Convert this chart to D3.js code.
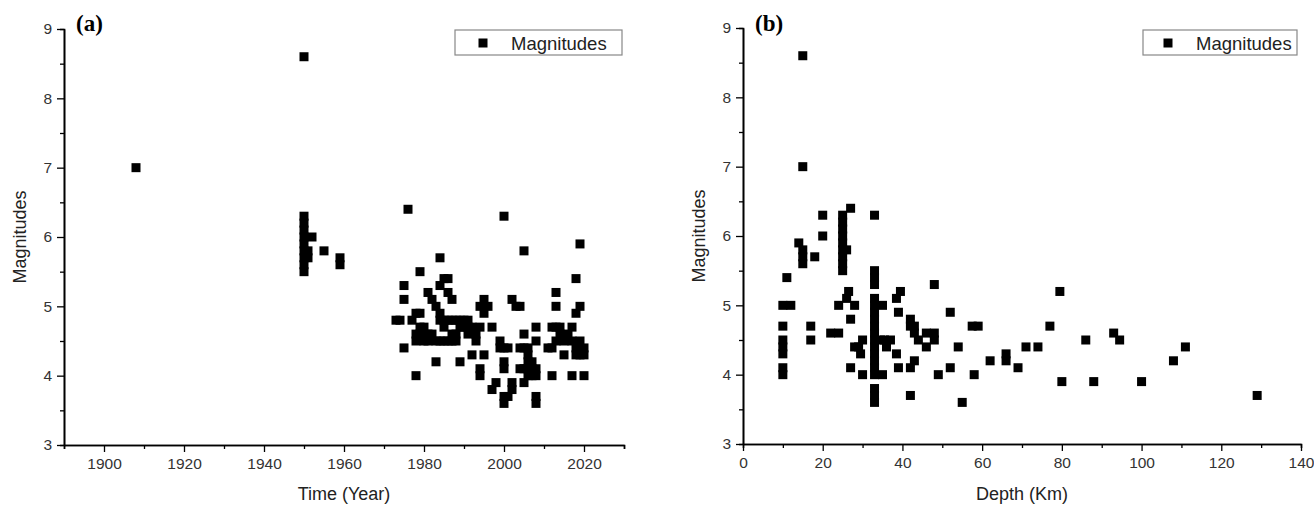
<!DOCTYPE html>
<meta charset="utf-8">
<script src="https://d3js.org/d3.v7.min.js"></script>
<style>
  body { margin: 0; background: #fff; }
  text { font-family: "Liberation Sans", Arial, sans-serif; }
</style>
<div id="chart"></div>
<script>

// (a) magnitude vs year of event
var timeYears = [1908,
  1950,1950,1950,1950,1950,1950,1950,1950,1950,1950, 1951,1951, 1952, 1955, 1959,1959,
  1973, 1974, 1975,1975,1975, 1976, 1977, 1978,1978,1978,1978, 1979,1979,1979,1979,
  1980,1980, 1981,1981,1981, 1982,1982, 1983,1983,1983, 1984,1984,1984,1984,1984,
  1985,1985,1985,1985, 1986,1986,1986,1986, 1987,1987,1987,1987, 1988,1988,1988,
  1989,1989,1989, 1990,1990, 1991,1991,1991, 1992,1992, 1993,1993, 1994,1994,1994,1994,
  1995,1995,1995, 1996, 1997,1997, 1998, 1999,1999,
  2000,2000,2000,2000,2000,2000, 2001,2001, 2002,2002,2002, 2003, 2004,2004,2004,
  2005,2005,2005,2005,2005, 2006,2006,2006,2006,2006, 2007,2007,2007,
  2008,2008,2008,2008,2008,2008, 2011, 2012,2012,2012, 2013,2013,2013,2013,
  2014,2014, 2015,2015, 2016, 2017,2017,2017, 2018,2018,2018,2018,
  2019,2019,2019,2019, 2020,2020,2020];
var timeMags = [7.0,
  8.6,6.3,6.2,6.1,6.0,5.9,5.8,5.7,5.6,5.5, 5.8,5.7, 6.0, 5.8, 5.7,5.6,
  4.8, 4.8, 5.3,5.1,4.4, 6.4, 4.8, 4.9,4.6,4.5,4.0, 5.5,4.9,4.7,4.6,
  4.7,4.5, 5.2,4.6,4.5, 5.1,4.6, 5.0,4.5,4.2, 5.7,5.3,4.9,4.8,4.5,
  5.4,4.8,4.7,4.5, 5.4,5.2,4.8,4.5, 5.1,4.8,4.6,4.5, 4.8,4.6,4.5,
  4.8,4.7,4.2, 4.8,4.7, 4.8,4.7,4.6, 4.7,4.3, 4.6,4.5, 5.0,4.7,4.1,4.0,
  5.1,4.9,4.3, 5.0, 4.7,3.8, 3.9, 4.5,4.4,
  6.3,4.4,4.2,4.1,3.7,3.6, 4.4,3.7, 5.1,3.9,3.8, 5.0, 5.0,4.4,4.1,
  5.8,4.6,4.4,4.1,3.9, 4.4,4.3,4.2,4.1,4.0, 4.2,4.1,4.0,
  4.7,4.5,4.1,4.0,3.7,3.6, 4.4, 4.7,4.4,4.0, 5.2,5.0,4.7,4.5,
  4.7,4.6, 4.5,4.3, 4.6, 4.7,4.5,4.0, 5.4,4.9,4.4,4.3,
  5.9,5.0,4.5,4.3, 4.4,4.3,4.0];

// (b) magnitude vs focal depth
var depthKm = [15, 15, 14, 15,15,15, 18, 11, 10,12, 10, 10,10,10, 10,10, 17,17, 20,20, 22,24,
  25,25,25,25,25,25,25,25,25, 26, 27, 24, 26, 26.5, 28, 27, 27, 28, 29, 30, 29.5, 30,
  33,33,33,33,33,33,33,33,33,33,33,33,33,33,33,33,33,33,33,
  35, 34.5, 35.5, 36, 37, 35, 38.5, 39.5, 39, 38.5, 39, 42,42, 43,43, 44, 42, 43, 42,
  46, 46, 48, 48, 48, 49, 52, 52, 54, 55, 57.5, 59, 58, 62, 66,66, 69, 71, 74, 77,
  79.5, 80, 86, 88, 93, 94.5, 100, 108, 111, 129];
var depthMags = [8.6, 7.0, 5.9, 5.8,5.7,5.6, 5.7, 5.4, 5.0,5.0, 4.7, 4.5,4.4,4.3, 4.1,4.0, 4.7,4.5, 6.3,6.0, 4.6,4.6,
  6.3,6.2,6.1,6.0,5.9,5.8,5.7,5.6,5.5, 5.8, 6.4, 5.0, 5.1, 5.2, 5.0, 4.8, 4.1, 4.4, 4.4, 4.5, 4.3, 4.0,
  6.3,5.5,5.4,5.3,5.1,5.0,4.9,4.8,4.7,4.6,4.5,4.4,4.3,4.2,4.1,4.0,3.8,3.7,3.6,
  5.0, 4.5, 4.5, 4.4, 4.5, 4.0, 5.1, 5.2, 4.9, 4.3, 4.1, 4.8,4.7, 4.7,4.6, 4.5, 4.1, 4.2, 3.7,
  4.4, 4.6, 4.6, 4.5, 5.3, 4.0, 4.9, 4.1, 4.4, 3.6, 4.7, 4.7, 4.0, 4.2, 4.3,4.2, 4.1, 4.4, 4.4, 4.7,
  5.2, 3.9, 4.5, 3.9, 4.6, 4.5, 3.9, 4.2, 4.4, 3.7];

var yearTicks = [1900, 1920, 1940, 1960, 1980, 2000, 2020];
var yearMinor = [1890, 1910, 1930, 1950, 1970, 1990, 2010, 2030];
var depthTicks = [0, 20, 40, 60, 80, 100, 120, 140];
var depthMinor = [10, 30, 50, 70, 90, 110, 130];
var magTicks = [3, 4, 5, 6, 7, 8, 9];
var magMinor = [3.5, 4.5, 5.5, 6.5, 7.5, 8.5];

var svg = d3.select("#chart").append("svg")
  .attr("width", 1314)
  .attr("height", 505);

function panel(o) {
  var g = svg.append("g");
  var x = d3.scaleLinear().domain(o.xDomain).range([o.left, o.right]);
  var y = d3.scaleLinear().domain([3, 9]).range([o.bottom, o.top]);

  // minor ticks first, then the labelled axes
  g.append("g").attr("transform", "translate(0," + o.bottom + ")")
    .call(d3.axisBottom(x).tickValues(o.xMinor).tickSize(4).tickFormat(""));
  g.append("g").attr("transform", "translate(" + o.left + ",0)")
    .call(d3.axisLeft(y).tickValues(magMinor).tickSize(4).tickFormat(""));

  g.append("g").attr("class", "ax").attr("transform", "translate(0," + o.bottom + ")")
    .call(d3.axisBottom(x).tickValues(o.xTicks).tickSize(7).tickSizeOuter(0).tickPadding(6).tickFormat(d3.format("d")));
  g.append("g").attr("class", "ax").attr("transform", "translate(" + o.left + ",0)")
    .call(d3.axisLeft(y).tickValues(magTicks).tickSize(7).tickSizeOuter(0).tickPadding(5).tickFormat(d3.format("d")));

  g.selectAll(".domain").attr("stroke", "#000").attr("stroke-width", 1.6);
  g.selectAll(".tick line").attr("stroke", "#000").attr("stroke-width", 1.3);
  g.selectAll(".tick text").attr("fill", "#333").style("font-size", "15.5px")
    .style("font-family", "'Liberation Sans', Arial, sans-serif");

  // markers
  var s = 9;
  g.selectAll("rect.pt")
    .data(o.xs.map(function(d, i) { return [d, o.ys[i]]; }))
    .enter().append("rect")
    .attr("class", "pt")
    .attr("x", function(d) { return x(d[0]) - s / 2; })
    .attr("y", function(d) { return y(d[1]) - s / 2; })
    .attr("width", s).attr("height", s)
    .attr("fill", "#000");

  // titles
  g.append("text")
    .attr("x", (o.left + o.right) / 2).attr("y", 500)
    .attr("text-anchor", "middle").attr("fill", "#222")
    .style("font-size", "18px").text(o.xTitle);
  g.append("text")
    .attr("transform", "translate(" + (o.left - 38) + "," + ((o.top + o.bottom) / 2) + ") rotate(-90)")
    .attr("text-anchor", "middle").attr("fill", "#222")
    .style("font-size", "18px").text("Magnitudes");

  g.append("text")
    .attr("x", o.left + 12).attr("y", 31)
    .style("font-family", "'Liberation Serif', 'Times New Roman', serif")
    .style("font-weight", "bold").style("font-size", "23px")
    .text(o.tag);

  // legend
  g.append("rect")
    .attr("x", o.legX).attr("y", 30).attr("width", o.legW).attr("height", 25)
    .attr("fill", "#fff").attr("stroke", "#888").attr("stroke-width", 1.2);
  g.append("rect")
    .attr("x", o.legX + o.legMark - s / 2).attr("y", 43 - s / 2)
    .attr("width", s).attr("height", s).attr("fill", "#000");
  g.append("text")
    .attr("x", o.legX + o.legText).attr("y", 50)
    .attr("fill", "#222").style("font-size", "18.5px")
    .text("Magnitudes");
}

panel({
  xDomain: [1890, 2030], left: 64, right: 624, top: 29, bottom: 445,
  xTicks: yearTicks, xMinor: yearMinor, xs: timeYears, ys: timeMags,
  xTitle: "Time (Year)", tag: "(a)",
  legX: 455, legW: 167, legMark: 28, legText: 56
});

panel({
  xDomain: [0, 140], left: 743, right: 1301, top: 28, bottom: 444,
  xTicks: depthTicks, xMinor: depthMinor, xs: depthKm, ys: depthMags,
  xTitle: "Depth (Km)", tag: "(b)",
  legX: 1143, legW: 154, legMark: 25, legText: 53
});

</script>
